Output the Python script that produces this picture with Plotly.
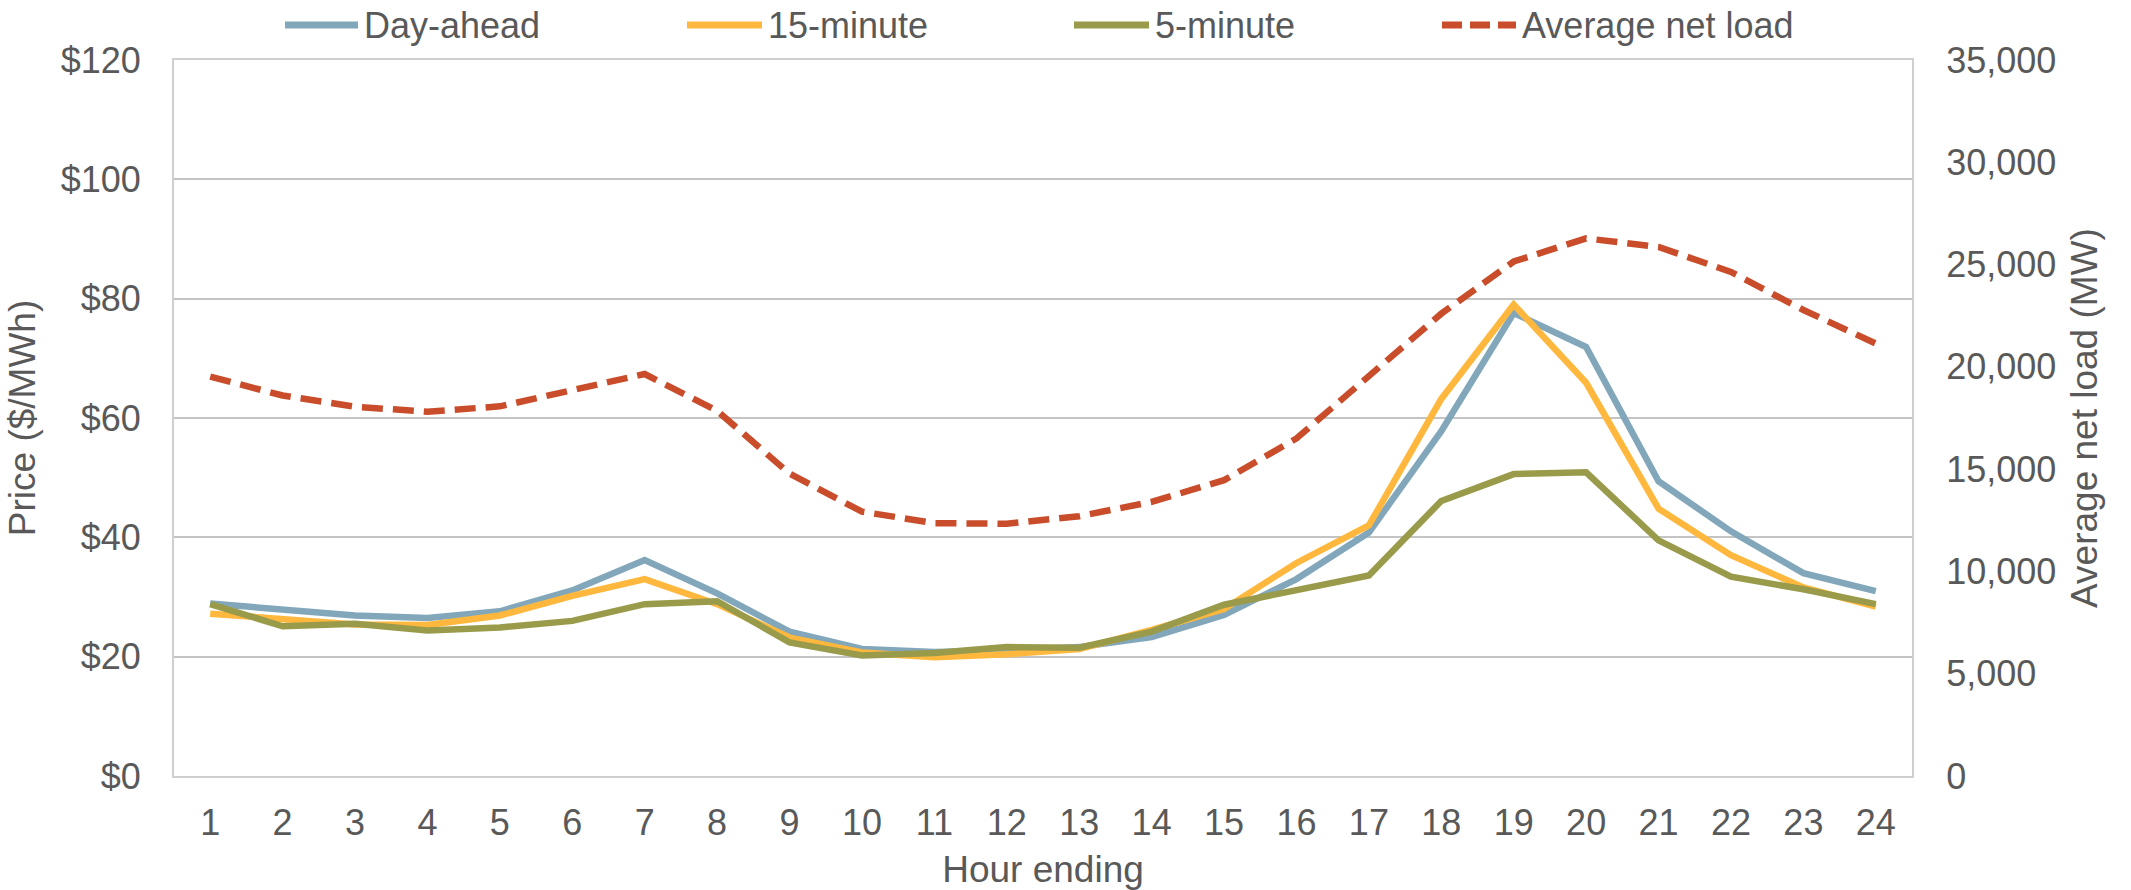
import plotly.graph_objects as go

# Hourly averages by hour ending
hours = list(range(1, 25))
day_ahead = [28.9, 27.9, 26.9, 26.5, 27.6, 31.1, 36.2, 30.6, 24.2, 21.3, 20.8, 21.0,
             21.6, 23.3, 27.0, 33.0, 40.8, 57.8, 77.6, 71.9, 49.4, 41.0, 34.0, 31.0]
fifteen_minute = [27.2, 26.2, 25.4, 25.3, 26.9, 30.2, 33.0, 28.8, 23.2, 20.7, 19.9, 20.4,
                  21.3, 24.5, 28.0, 35.7, 42.0, 63.2, 79.0, 65.9, 44.8, 37.0, 31.6, 28.4]
five_minute = [28.8, 25.1, 25.5, 24.4, 24.9, 26.0, 28.8, 29.3, 22.4, 20.2, 20.6, 21.6,
               21.5, 24.2, 28.7, 31.2, 33.6, 46.1, 50.6, 50.9, 39.5, 33.4, 31.3, 28.8]
net_load = [19520, 18600, 18050, 17810, 18070, 18900, 19650, 17850, 14780, 12920, 12360, 12330,
            12700, 13400, 14460, 16500, 19500, 22600, 25150, 26280, 25860, 24640, 22780, 21140]

price_ticks = [0, 20, 40, 60, 80, 100, 120]
load_ticks = [0, 5000, 10000, 15000, 20000, 25000, 30000, 35000]

C_DA = "#82A7BA"
C_15 = "#FFB83D"
C_5 = "#9A9B4A"
C_NL = "#C94D2B"
TXT = "#595959"
GRID = "#C4C4C4"
AXL = "#CFCFCF"
FONT = "Liberation Sans, Arial, sans-serif"
FS = 36
FT = 37
LW = 6.5

W, H = 2131, 890
ML, MR, MT, MB = 174, 219, 60, 114
PW, PH = W - ML - MR, H - MT - MB

fig = go.Figure()
series = [("Day-ahead", day_ahead, C_DA), ("15-minute", fifteen_minute, C_15),
          ("5-minute", five_minute, C_5)]
for name, vals, col in series:
    fig.add_trace(go.Scatter(x=hours, y=vals, name=name, mode="lines",
                             line=dict(color=col, width=LW), showlegend=False))
fig.add_trace(go.Scatter(x=hours, y=net_load, name="Average net load", mode="lines",
                         line=dict(color=C_NL, width=LW, dash="21px,10px"),
                         yaxis="y2", showlegend=False))

# Legend row across the top, centred on the plot area
legend_items = [("Day-ahead", C_DA, "solid", 285, 358),
                ("15-minute", C_15, "solid", 687, 762),
                ("5-minute", C_5, "solid", 1074, 1149),
                ("Average net load", C_NL, "dash", 1442, 1516)]
ly = (MT + PH - 25) / PH
for label, col, dash, x0, x1 in legend_items:
    fig.add_shape(type="line", xref="paper", yref="paper",
                  x0=(x0 - ML) / PW, x1=(x1 - ML) / PW, y0=ly, y1=ly,
                  line=dict(color=col, width=7, dash="20px,8px" if dash == "dash" else "solid"))
    fig.add_annotation(xref="paper", yref="paper", x=(x1 + 4 - ML) / PW, y=ly,
                       text=label, showarrow=False, xanchor="left", yanchor="middle",
                       font=dict(family=FONT, size=FS, color=TXT))

fig.update_layout(
    width=W, height=H,
    margin=dict(l=ML, r=MR, t=MT, b=MB, autoexpand=False),
    paper_bgcolor="white", plot_bgcolor="white",
    font=dict(family=FONT, size=FS, color=TXT),
    xaxis=dict(range=[0.5, 24.5], tickmode="array", tickvals=hours,
               ticktext=[str(h) for h in hours], showgrid=False, zeroline=False,
               showline=True, linecolor=AXL, linewidth=2, mirror=True,
               ticks="", ticklabelstandoff=14, tickfont=dict(size=FS),
               title=dict(text="Hour ending", standoff=18,
                          font=dict(family=FONT, size=FT, color=TXT))),
    yaxis=dict(range=[0, 120], tickmode="array", tickvals=price_ticks,
               ticktext=["$" + str(v) for v in price_ticks],
               showgrid=True, gridcolor=GRID, gridwidth=2, zeroline=False,
               showline=True, linecolor=AXL, linewidth=2,
               ticks="", ticklabelstandoff=24, tickfont=dict(size=FS),
               title=dict(text="Price ($/MWh)", standoff=14,
                          font=dict(family=FONT, size=FT, color=TXT))),
    yaxis2=dict(range=[0, 35000], overlaying="y", side="right", tickmode="array",
                tickvals=load_ticks, ticktext=[f"{v:,}" for v in load_ticks],
                showgrid=False, zeroline=False, showline=True, linecolor=AXL,
                linewidth=2, ticks="", ticklabelstandoff=25, tickfont=dict(size=FS),
                title=dict(text="Average net load (MW)", standoff=16,
                           font=dict(family=FONT, size=FT, color=TXT))),
)

fig.write_html("out.html")
